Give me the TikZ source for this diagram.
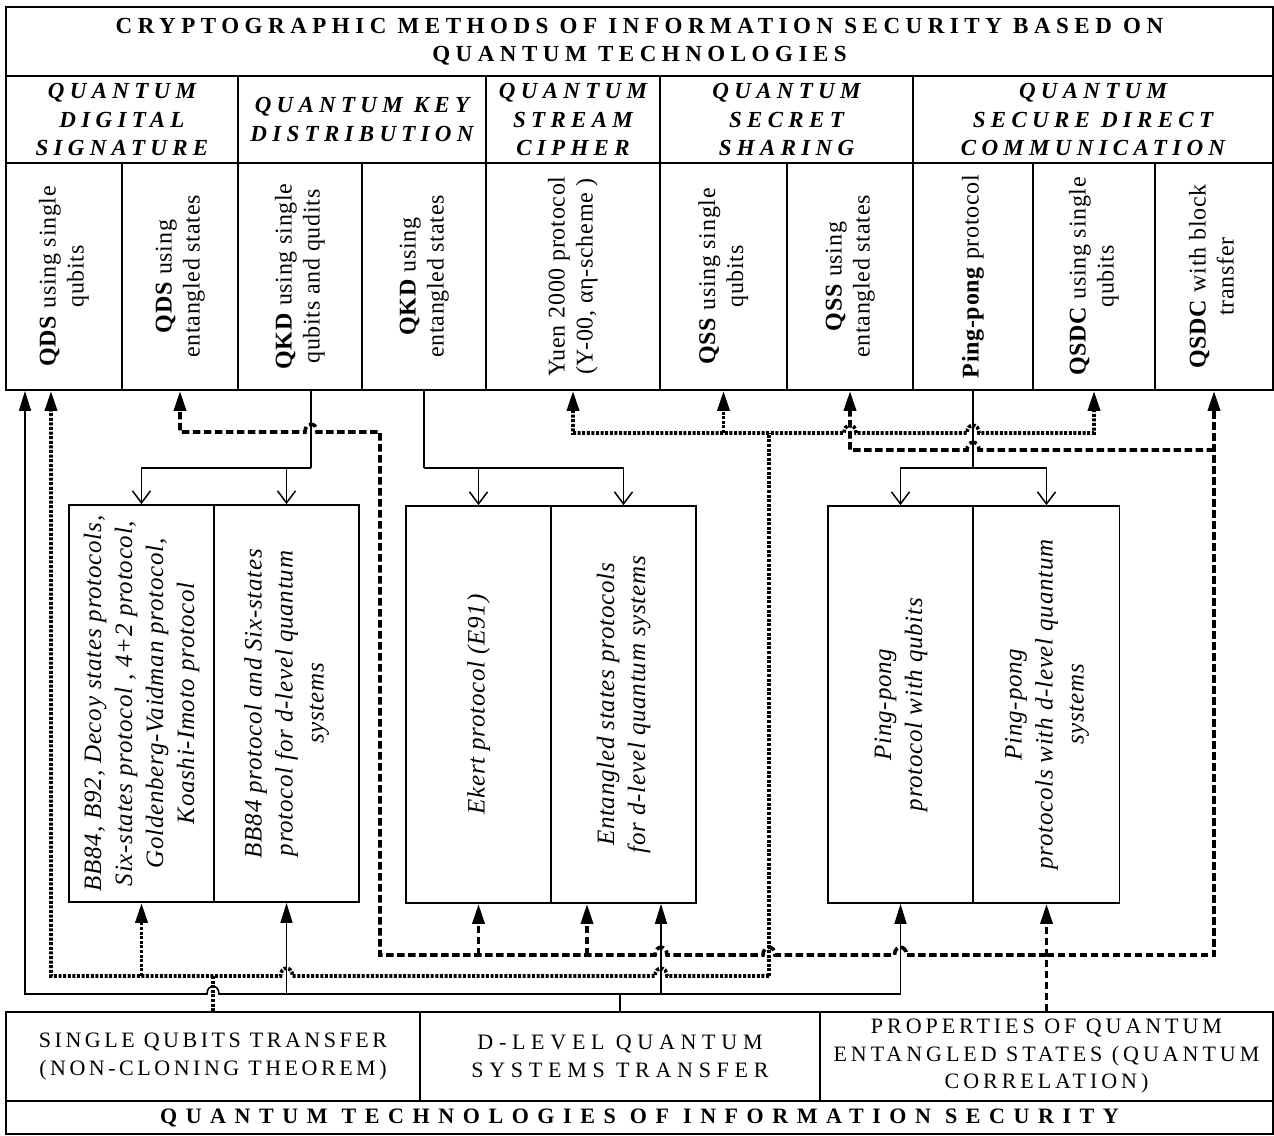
\documentclass[tikz,border=0pt]{standalone}
\usepackage{graphicx}
\usepackage{fontspec}
\setmainfont{Liberation Serif}
\usetikzlibrary{arrows.meta}

\newcommand{\vtext}[1]{\rotatebox{90}{\begin{tabular}{@{}c@{}}#1\end{tabular}}}

\begin{document}
\begin{tikzpicture}[x=1pt,y=-1pt,
  cell/.style={draw,line width=1.8pt,inner sep=0pt,align=center},
  wh/.style 2 args={minimum width=#1pt,minimum height=#2pt},
  title/.style={font=\fontsize{23}{28}\selectfont\bfseries\addfontfeature{LetterSpace=24}},
  group/.style={font=\fontsize{23}{28.5}\selectfont\bfseries\itshape\addfontfeature{LetterSpace=23}},
  method/.style={font=\fontsize{24}{28}\selectfont\addfontfeature{LetterSpace=3}},
  proto/.style={font=\fontsize{25}{31}\selectfont\itshape\addfontfeature{LetterSpace=3}},
  base/.style={font=\fontsize{22}{27.5}\selectfont\addfontfeature{LetterSpace=16}},
  foot/.style={font=\fontsize{22}{24}\selectfont\bfseries\addfontfeature{LetterSpace=39}},
  dlevel/.style={line width=1.6pt},
  single/.style={line width=3.6pt,dash pattern=on 3pt off 1.6pt},
  entang/.style={line width=3.6pt,dash pattern=on 7.5pt off 3.5pt},
  tip/.style={-{Triangle[length=20pt,width=12pt]}},
  tips/.style={{Triangle[length=20pt,width=12pt]}-{Triangle[length=20pt,width=12pt]}},
  split/.style={-{Straight Barb[length=12pt,width=18pt,line width=1.5pt]}},
  hop/.style={out=90,in=90,looseness=2.2}]

  \useasboundingbox (0,0) rectangle (1274,1135);

  % top table
  \node[cell,wh={1267}{69},title] (head) at (639.5,41.5) {CRYPTOGRAPHIC METHODS OF INFORMATION SECURITY BASED ON\\QUANTUM TECHNOLOGIES};

  \node[cell,wh={232}{87},group] (qds) at (122,119.5) {QUANTUM\\DIGITAL\\SIGNATURE};
  \node[cell,wh={248}{87},group] (qkd) at (362,119.5) {QUANTUM KEY\\DISTRIBUTION};
  \node[cell,wh={174}{87},group] (qsc) at (573,119.5) {QUANTUM\\STREAM\\CIPHER};
  \node[cell,wh={253}{87},group] (qss) at (786.5,119.5) {QUANTUM\\SECRET\\SHARING};
  \node[cell,wh={360}{87},group] (qsdc) at (1093,119.5) {QUANTUM\\SECURE DIRECT\\COMMUNICATION};

  \node[cell,wh={116}{227},method] (qdsA) at (64,276.5) {\vtext{\textbf{QDS} using single\\qubits}};
  \node[cell,wh={116}{227},method] (qdsB) at (180,276.5) {\vtext{\textbf{QDS} using\\entangled states}};
  \node[cell,wh={124}{227},method] (qkdA) at (300,276.5) {\vtext{\textbf{QKD} using single\\qubits and qudits}};
  \node[cell,wh={124}{227},method] (qkdB) at (424,276.5) {\vtext{\textbf{QKD} using\\entangled states}};
  \node[cell,wh={174}{227},method] (ysc) at (573,276.5) {\vtext{Yuen 2000 protocol\\(Y-00, αη-scheme )}};
  \node[cell,wh={127}{227},method] (qssA) at (723.5,276.5) {\vtext{\textbf{QSS} using single\\qubits}};
  \node[cell,wh={126}{227},method] (qssB) at (850,276.5) {\vtext{\textbf{QSS} using\\entangled states}};
  \node[cell,wh={120}{227},method] (ppA) at (973,276.5) {\vtext{\textbf{Ping-pong} protocol}};
  \node[cell,wh={122}{227},method] (qsdcA) at (1094,276.5) {\vtext{\textbf{QSDC} using single\\qubits}};
  \node[cell,wh={118}{227},method] (qsdcB) at (1214,276.5) {\vtext{\textbf{QSDC} with block\\transfer}};

  % protocol boxes
  \node[cell,wh={145}{397},proto] (b1a) at (141.5,703.5) {\vtext{BB84, B92, Decoy states protocols,\\Six-states protocol , 4+2 protocol,\\Goldenberg-Vaidman protocol,\\Koashi-Imoto protocol}};
  \node[cell,wh={145}{397},proto] (b1b) at (286.5,703.5) {\vtext{BB84 protocol and Six-states\\protocol for d-level quantum\\systems}};
  \node[cell,wh={145}{397},proto] (b2a) at (478.5,704.5) {\vtext{Ekert protocol (E91)}};
  \node[cell,wh={145}{397},proto] (b2b) at (623.5,704.5) {\vtext{Entangled states protocols\\for d-level quantum systems}};
  \node[cell,wh={145}{397},proto] (b3a) at (900.5,704.5) {\vtext{Ping-pong\\protocol with qubits}};
  \node[cell,wh={146}{397},proto] (b3b) at (1046.5,704.5) {\vtext{Ping-pong\\protocols with d-level quantum\\systems}};

  % bottom table
  \node[cell,wh={414}{89},base] (sq) at (213,1056.5) {SINGLE QUBITS TRANSFER\\(NON-CLONING THEOREM)};
  \node[cell,wh={400}{89},base,font=\fontsize{22}{27.5}\selectfont\addfontfeature{LetterSpace=26}] (dq) at (620,1056.5) {D-LEVEL QUANTUM\\SYSTEMS TRANSFER};
  \node[cell,wh={453}{89},base,font=\fontsize{22}{27.5}\selectfont\addfontfeature{LetterSpace=18}] (pe) at (1046.5,1056.5) {PROPERTIES OF QUANTUM\\ENTANGLED STATES (QUANTUM\\CORRELATION)};
  \node[cell,wh={1267}{33},foot] (foot) at (639.5,1117.5) {QUANTUM TECHNOLOGIES OF INFORMATION SECURITY};

  % splits to protocols
  \draw[dlevel] ([xshift=11]qkdA.south) -- (311,468);
  \draw[dlevel,split] (311,468) -| (b1a.north);
  \draw[dlevel,split] (311,468) -| (b1b.north);
  \draw[dlevel] (qkdB.south) -- (424,468);
  \draw[dlevel,split] (424,468) -| (b2a.north);
  \draw[dlevel,split] (424,468) -| (b2b.north);
  \draw[dlevel] (ppA.south) -- (973,468);
  \draw[dlevel,split] (973,468) -| (b3a.north);
  \draw[dlevel,split] (973,468) -| (b3b.north);

  % d-level quantum systems transfer
  \draw[dlevel] (dq.north) -- (620,994);
  \draw[dlevel,tip] (620,994) -- (219,994) to[hop] (207,994) -- (25,994) -- ([xshift=-39]qdsA.south);
  \draw[dlevel,tip] (620,994) -- (900.5,994) -- (b3a.south);
  \draw[dlevel,tip] (286.5,994) -- (b1b.south);
  \draw[dlevel,tip] (661,994) -- ([xshift=37.5]b2b.south);

  % single qubits transfer
  \draw[single] (sq.north) -- (213,976);
  \draw[single,tip] (769,976) -- (667,976) to[hop] (655,976) -- (292.5,976) to[hop] (280.5,976) -- (51,976) -- ([xshift=-13]qdsA.south);
  \draw[single,tip] (141.5,976) -- (b1a.south);
  \draw[single] (769,976) -- (769,433);
  \draw[single,tips] (ysc.south) -- (573,433) -- (844,433) to[hop] (856,433) -- (967,433) to[hop] (979,433) -- (1094,433) -- (qsdcA.south);
  \draw[single,tip] (723.5,433) -- (qssA.south);

  % entangled states
  \draw[entang,tip] (pe.north) -- (b3b.south);
  \draw[entang,tip] (1046.5,955) -- (906.5,955) to[hop] (894.5,955) -- (775,955) to[hop] (763,955) -- (667,955) to[hop] (655,955) -- (380,955) -- (380,432) -- (317,432) to[hop] (305,432) -- (180,432) -- (qdsB.south);
  \draw[entang,tip] (478.5,955) -- (b2a.south);
  \draw[entang,tip] (587,955) -- ([xshift=-36.5]b2b.south);
  \draw[entang,tip] (1046.5,955) -- (1214,955) -- (qsdcB.south);
  \draw[entang,tip] (1214,450) -- (979,450) to[hop] (967,450) -- (850,450) -- (qssB.south);

\end{tikzpicture}
\end{document}
